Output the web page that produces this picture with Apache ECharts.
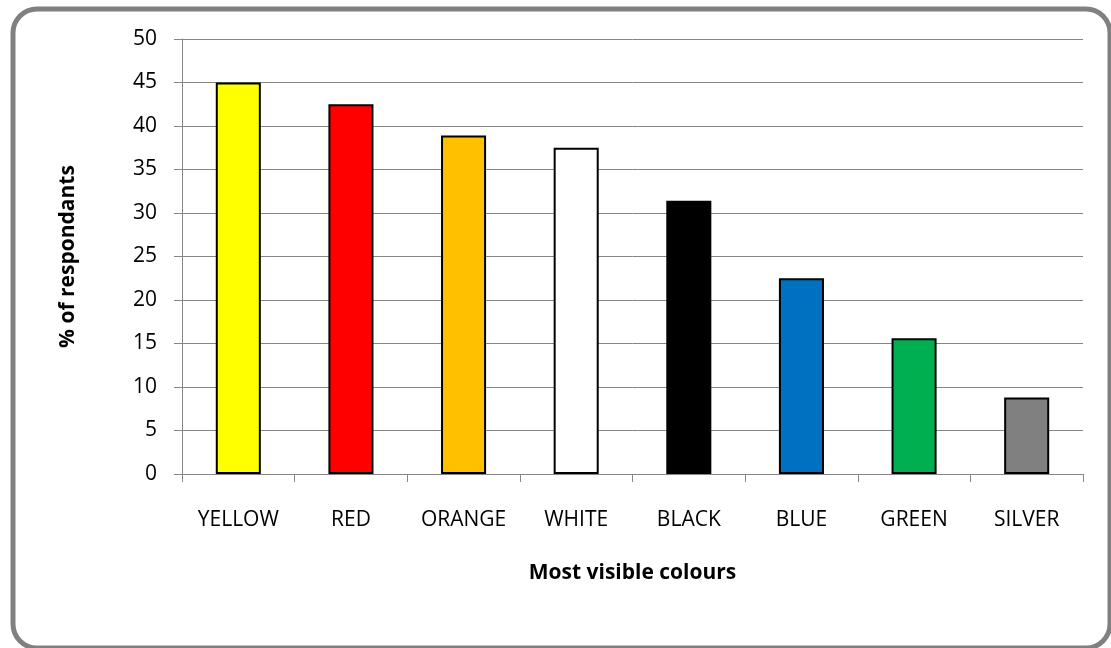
<!DOCTYPE html>
<html>
<head>
<meta charset="utf-8">
<script src="https://cdn.jsdelivr.net/npm/echarts@6/dist/echarts.min.js"></script>
<style>
  html, body { margin: 0; padding: 0; background: #fff; }
  #chart { width: 1111px; height: 648px; }
</style>
</head>
<body>
<div id="chart"></div>
<script>
// Survey: which colours respondents find most visible
const categories = ['YELLOW', 'RED', 'ORANGE', 'WHITE', 'BLACK', 'BLUE', 'GREEN', 'SILVER'];
const percentages = [45.0, 42.5, 38.9, 37.5, 31.4, 22.5, 15.6, 8.8];
const barColours = ['#FFFF00', '#FF0000', '#FFC000', '#FFFFFF', '#000000', '#0070C0', '#00B050', '#808080'];
const yTicks = [0, 5, 10, 15, 20, 25, 30, 35, 40, 45, 50];

const axisGrey = '#868686';
const font = '"Open Sans", "DejaVu Sans", sans-serif';

const chart = echarts.init(document.getElementById('chart'), null, { renderer: 'canvas' });

chart.setOption({
  animation: false,
  backgroundColor: '#ffffff',
  graphic: [{
    type: 'rect',
    shape: { x: 13, y: 9, width: 1097, height: 639, r: 24 },
    style: { fill: 'none', stroke: '#808080', lineWidth: 5 },
    z: -1
  }],
  grid: { left: 182, right: 28, top: 39, bottom: 174, containLabel: false },
  xAxis: {
    type: 'category',
    data: categories,
    name: 'Most visible colours',
    nameLocation: 'middle',
    nameGap: 89,
    nameTextStyle: { fontFamily: font, fontSize: 21, fontWeight: 'bold', color: '#000' },
    axisLine: { show: true, lineStyle: { color: axisGrey, width: 1 } },
    axisTick: { show: true, interval: 0, length: 8, lineStyle: { color: axisGrey } },
    axisLabel: { interval: 0, hideOverlap: false, fontFamily: font, fontSize: 21, color: '#000', margin: 36 }
  },
  yAxis: {
    type: 'value',
    min: yTicks[0],
    max: yTicks[yTicks.length - 1],
    interval: yTicks[1] - yTicks[0],
    name: '% of respondants',
    nameLocation: 'middle',
    nameGap: 103,
    nameTextStyle: { fontFamily: font, fontSize: 21, fontWeight: 'bold', color: '#000' },
    axisLine: { show: true, lineStyle: { color: axisGrey, width: 1 } },
    axisTick: { show: true, length: 8, lineStyle: { color: axisGrey } },
    axisLabel: { fontFamily: font, fontSize: 21, color: '#000', margin: 25 },
    splitLine: { show: true, lineStyle: { color: axisGrey, width: 1 } }
  },
  series: [{
    type: 'bar',
    data: percentages.map((v, i) => ({
      value: v,
      itemStyle: { color: barColours[i] }
    })),
    barWidth: '40%',
    itemStyle: { borderColor: '#000', borderWidth: 2 }
  }]
});
</script>
</body>
</html>
